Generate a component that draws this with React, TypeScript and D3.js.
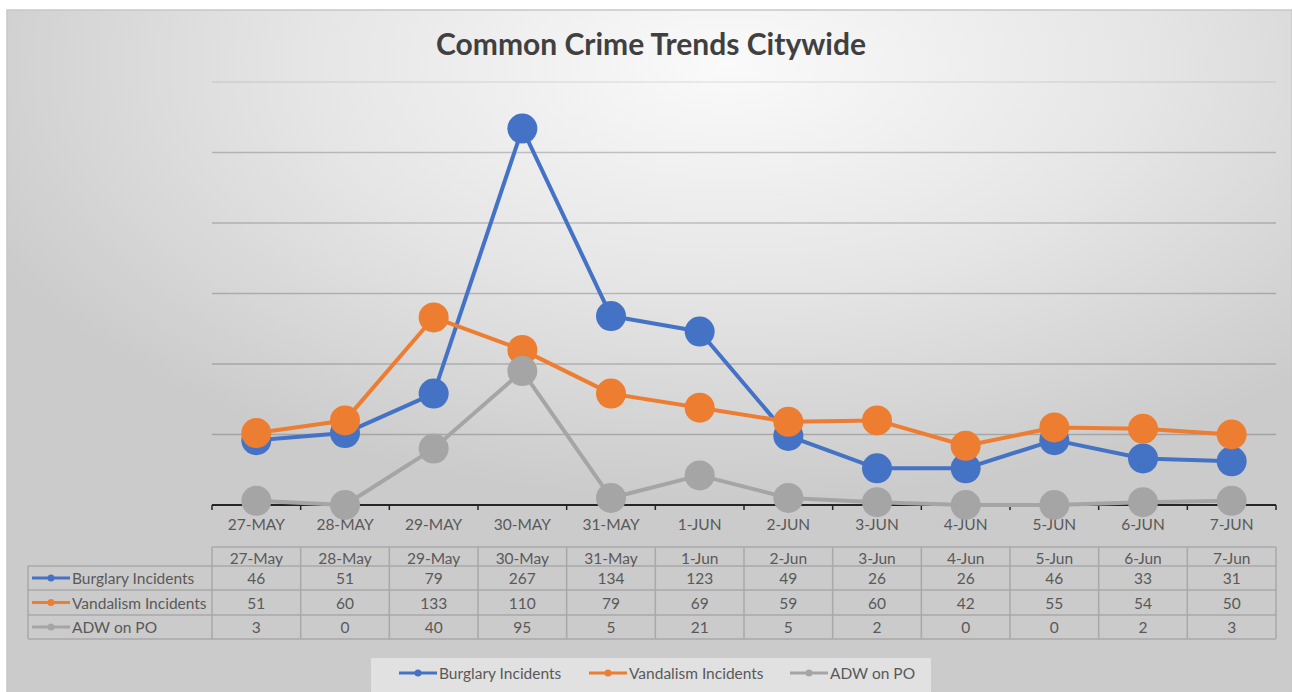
import React from 'react';
import * as d3 from 'd3';

const categories = ['27-May', '28-May', '29-May', '30-May', '31-May', '1-Jun', '2-Jun', '3-Jun', '4-Jun', '5-Jun', '6-Jun', '7-Jun'];
const burglary = [46, 51, 79, 267, 134, 123, 49, 26, 26, 46, 33, 31];
const vandalism = [51, 60, 133, 110, 79, 69, 59, 60, 42, 55, 54, 50];
const adw = [3, 0, 40, 95, 5, 21, 5, 2, 0, 0, 2, 3];
const seriesNames = ['Burglary Incidents', 'Vandalism Incidents', 'ADW on PO'];
const seriesColors = ['#4472C4', '#ED7D31', '#A5A5A5'];
const yTicks = [0, 50, 100, 150, 200, 250, 300];
const title = 'Common Crime Trends Citywide';

const W = 1292;
const H = 692;
const FONT = 'Lato, "Open Sans", sans-serif';

export default function App() {
  const series = [burglary, vandalism, adw];
  const x = d3.scaleBand<string>().domain(categories).range([212, 1276]);
  const y = d3.scaleLinear().domain([0, 300]).range([505, 82]);
  const cx = (c: string) => (x(c) as number) + x.bandwidth() / 2;
  const line = d3
    .line<number>()
    .x((_, i) => cx(categories[i]))
    .y((d) => y(d));

  const tableLeft = 28;
  const plotLeft = 212;
  const plotRight = 1276;
  const headerTop = 547;
  const headerBottom = 566;
  const rowBottoms = [590, 615, 639];
  const rowTops = [headerBottom, rowBottoms[0], rowBottoms[1]];
  const tableStroke = '#a9a9a9';
  const textColor = '#595959';
  const fs = 15.5;

  const legendItems = [
    { x: 399, name: seriesNames[0], color: seriesColors[0] },
    { x: 589, name: seriesNames[1], color: seriesColors[1] },
    { x: 790, name: seriesNames[2], color: seriesColors[2] },
  ];

  return (
    <svg
      width={W}
      height={H}
      style={{ position: 'absolute', left: 0, top: 0, display: 'block' }}
      fontFamily={FONT}
    >
      <defs>
        <radialGradient id="bg" cx="0.56" cy="0.08" r="0.64" fx="0.56" fy="0.08">
          <stop offset="0" stopColor="#fafafa" />
          <stop offset="0.5" stopColor="#e6e6e6" />
          <stop offset="1" stopColor="#cbcbcb" />
        </radialGradient>
      </defs>
      <rect x={0} y={0} width={W} height={H} fill="#ffffff" />
      <rect x={7} y={10} width={W - 7} height={H - 10} fill="url(#bg)" stroke="#c8c8c8" strokeWidth={1.5} />

      <text x={651} y={43} textAnchor="middle" dominantBaseline="central" fontSize={30} fontWeight={700} fill="#404040">
        {title}
      </text>

      {/* gridlines */}
      {yTicks.slice(1).map((t, i) => (
        <line
          key={t}
          x1={plotLeft}
          x2={plotRight}
          y1={y(t)}
          y2={y(t)}
          stroke={i === yTicks.length - 2 ? 'rgba(0,0,0,0.08)' : 'rgba(0,0,0,0.2)'}
          strokeWidth={1.5}
        />
      ))}

      {/* axis */}
      <line x1={plotLeft} x2={plotRight} y1={y(0)} y2={y(0)} stroke="#262626" strokeWidth={2} />
      {categories.map((c) => (
        <line key={'t' + c} x1={x(c)} x2={x(c)} y1={y(0)} y2={y(0) + 5} stroke="#262626" strokeWidth={1.5} />
      ))}
      <line x1={plotRight} x2={plotRight} y1={y(0)} y2={y(0) + 5} stroke="#262626" strokeWidth={1.5} />
      {categories.map((c) => (
        <text key={'l' + c} x={cx(c)} y={524} textAnchor="middle" dominantBaseline="central" fontSize={fs} fill={textColor}>
          {c.toUpperCase()}
        </text>
      ))}

      {/* series */}
      {series.map((vals, si) => (
        <g key={seriesNames[si]}>
          <path d={line(vals) as string} fill="none" stroke={seriesColors[si]} strokeWidth={4} strokeLinejoin="round" />
          {vals.map((v, i) => (
            <circle key={i} cx={cx(categories[i])} cy={y(v)} r={15} fill={seriesColors[si]} />
          ))}
        </g>
      ))}

      {/* data table */}
      <g stroke={tableStroke} strokeWidth={1.5} fill="none">
        <line x1={plotLeft} x2={plotRight} y1={headerTop} y2={headerTop} />
        <line x1={tableLeft} x2={plotRight} y1={headerBottom} y2={headerBottom} />
        {rowBottoms.map((b) => (
          <line key={b} x1={tableLeft} x2={plotRight} y1={b} y2={b} />
        ))}
        <line x1={tableLeft} x2={tableLeft} y1={headerBottom} y2={rowBottoms[2]} />
        {categories.map((c) => (
          <line key={'v' + c} x1={x(c)} x2={x(c)} y1={headerTop} y2={rowBottoms[2]} />
        ))}
        <line x1={plotRight} x2={plotRight} y1={headerTop} y2={rowBottoms[2]} />
      </g>
      {categories.map((c) => (
        <text key={'h' + c} x={cx(c)} y={(headerTop + headerBottom) / 2 + 1} textAnchor="middle" dominantBaseline="central" fontSize={fs} fill={textColor}>
          {c}
        </text>
      ))}
      {series.map((vals, si) => {
        const my = (rowTops[si] + rowBottoms[si]) / 2;
        return (
          <g key={'row' + si}>
            <line x1={32} x2={70} y1={my} y2={my} stroke={seriesColors[si]} strokeWidth={3} />
            <circle cx={51} cy={my} r={3.5} fill={seriesColors[si]} />
            <text x={72} y={my} dominantBaseline="central" fontSize={fs} fill={textColor}>
              {seriesNames[si]}
            </text>
            {vals.map((v, i) => (
              <text key={i} x={cx(categories[i])} y={my} textAnchor="middle" dominantBaseline="central" fontSize={fs} fill={textColor}>
                {v}
              </text>
            ))}
          </g>
        );
      })}

      {/* legend */}
      <rect x={371} y={658} width={560} height={34} fill="#f4f4f4" opacity={0.55} />
      {legendItems.map((it) => (
        <g key={it.name}>
          <line x1={it.x} x2={it.x + 38} y1={673} y2={673} stroke={it.color} strokeWidth={3} />
          <circle cx={it.x + 19} cy={673} r={3.5} fill={it.color} />
          <text x={it.x + 40} y={673} dominantBaseline="central" fontSize={fs} fill={textColor}>
            {it.name}
          </text>
        </g>
      ))}
    </svg>
  );
}
